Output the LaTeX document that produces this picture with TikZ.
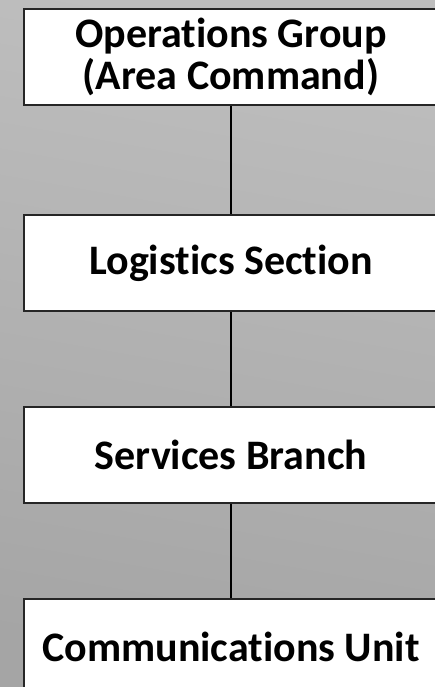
\documentclass[tikz,border=0pt]{standalone}
\usepackage{fontspec}
\setmainfont[Ligatures=NoCommon]{Carlito}
\usetikzlibrary{positioning}

\begin{document}
\begin{tikzpicture}[x=0.75pt,y=-0.75pt,
	unitbox/.style={draw=black!85, line width=1.5pt, fill=white, minimum width=414*0.75pt, minimum height=96*0.75pt, inner sep=0pt, align=center, font=\fontsize{31.5}{32}\selectfont\bfseries},
	link/.style={black, line width=1.5pt}]

	\useasboundingbox (0,0) rectangle (435,687);
	\clip (0,0) rectangle (435,687);
	\shade[top color={rgb,255:red,190;green,190;blue,190}, bottom color={rgb,255:red,165;green,165;blue,165}, shading angle=-10] (0,0) rectangle (435,687);

	\node (ops) [unitbox] at (231,57) {Operations Group\\(Area Command)};
	\node (log) [unitbox] at (231,263) {Logistics Section};
	\node (srv) [unitbox] at (231,455) {Services Branch};
	\node (com) [unitbox] at (231,647) {Communications Unit};

	\draw [link] (ops.south) to (log.north);
	\draw [link] (log.south) to (srv.north);
	\draw [link] (srv.south) to (com.north);

\end{tikzpicture}
\end{document}
